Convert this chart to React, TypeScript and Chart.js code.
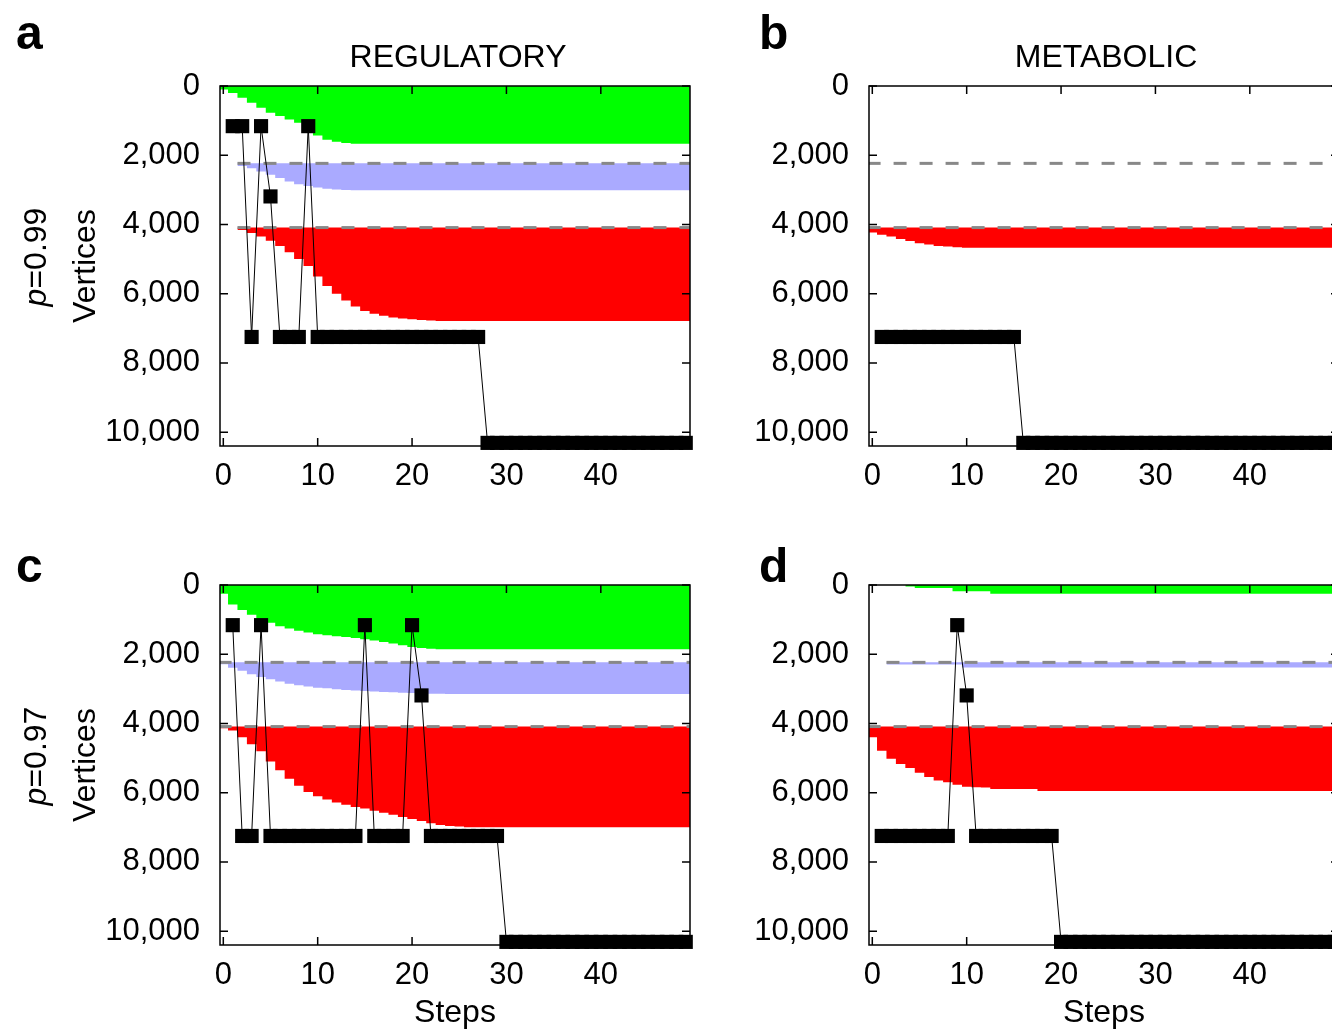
import React, { useEffect, useRef } from 'react';
import { Chart, registerables } from 'chart.js';

Chart.register(...registerables);

const FONT = '"Liberation Sans", Arial, Helvetica, sans-serif';

// ---- axes ----
const X_MIN = -0.35;
const X_MAX = 49.45;
const Y_MIN = 0;
const Y_MAX = 10400;
const X_TICKS = [0, 10, 20, 30, 40];
const Y_TICKS = [0, 2000, 4000, 6000, 8000, 10000];

// ---- reference levels (dashed lines / band tops) ----
const BLUE_LEVEL = 2235;
const RED_LEVEL = 4090;

// first step of the black path series
const FIRST_PATH_STEP = 1;

// ---- band lower edges, one value per step (0..49) ----
const greenA = [
  100, 200, 340, 485, 630, 770, 870, 965, 1060, 1250,
  1430, 1550, 1610, 1645, 1665, 1665, 1665, 1665, 1665, 1665,
  1665, 1665, 1665, 1665, 1665, 1665, 1665, 1665, 1665, 1665,
  1665, 1665, 1665, 1665, 1665, 1665, 1665, 1665, 1665, 1665,
  1665, 1665, 1665, 1665, 1665, 1665, 1665, 1665, 1665, 1665,
];
const blueA = [
  null, null, 2310, 2375, 2470, 2565, 2660, 2760, 2835, 2890,
  2930, 2970, 2990, 3005, 3010, 3010, 3010, 3010, 3010, 3010,
  3010, 3010, 3010, 3010, 3010, 3010, 3010, 3010, 3010, 3010,
  3010, 3010, 3010, 3010, 3010, 3010, 3010, 3010, 3010, 3010,
  3010, 3010, 3010, 3010, 3010, 3010, 3010, 3010, 3010, 3010,
];
const redA = [
  null, null, 4160, 4250, 4350, 4470, 4620, 4800, 5000, 5200,
  5500, 5780, 6000, 6200, 6370, 6500, 6580, 6640, 6690, 6720,
  6740, 6760, 6775, 6790, 6790, 6790, 6790, 6790, 6790, 6790,
  6790, 6790, 6790, 6790, 6790, 6790, 6790, 6790, 6790, 6790,
  6790, 6790, 6790, 6790, 6790, 6790, 6790, 6790, 6790, 6790,
];
const redB = [
  4230, 4300, 4350, 4420, 4480, 4540, 4580, 4620, 4640, 4655,
  4670, 4670, 4670, 4670, 4670, 4670, 4670, 4670, 4670, 4670,
  4670, 4670, 4670, 4670, 4670, 4670, 4670, 4670, 4670, 4670,
  4670, 4670, 4670, 4670, 4670, 4670, 4670, 4670, 4670, 4670,
  4670, 4670, 4670, 4670, 4670, 4670, 4670, 4670, 4670, 4670,
];
const greenC = [
  250, 560, 720, 860, 980, 1090, 1190, 1260, 1320, 1370,
  1420, 1450, 1480, 1505, 1530, 1570, 1600, 1650, 1690, 1740,
  1790, 1820, 1840, 1855, 1855, 1855, 1855, 1855, 1855, 1855,
  1855, 1855, 1855, 1855, 1855, 1855, 1855, 1855, 1855, 1855,
  1855, 1855, 1855, 1855, 1855, 1855, 1855, 1855, 1855, 1855,
];
const blueC = [
  2290, 2390, 2480, 2580, 2655, 2720, 2790, 2850, 2895, 2935,
  2965, 2985, 3010, 3030, 3045, 3060, 3075, 3090, 3100, 3110,
  3120, 3130, 3140, 3145, 3150, 3150, 3150, 3150, 3150, 3150,
  3150, 3150, 3150, 3150, 3150, 3150, 3150, 3150, 3150, 3150,
  3150, 3150, 3150, 3150, 3150, 3150, 3150, 3150, 3150, 3150,
];
const redC = [
  4140, 4200, 4400, 4600, 4800, 5100, 5350, 5600, 5800, 5980,
  6100, 6200, 6280, 6350, 6410, 6460, 6520, 6580, 6640, 6700,
  6760, 6820, 6880, 6930, 6960, 6980, 6995, 6995, 6995, 6995,
  6995, 6995, 6995, 6995, 6995, 6995, 6995, 6995, 6995, 6995,
  6995, 6995, 6995, 6995, 6995, 6995, 6995, 6995, 6995, 6995,
];
const greenD = [
  null, null, null, null, 40, 90, 90, 90, 90, 180,
  180, 180, 180, 250, 250, 250, 250, 250, 250, 250,
  250, 250, 250, 250, 250, 250, 250, 250, 250, 250,
  250, 250, 250, 250, 250, 250, 250, 250, 250, 250,
  250, 250, 250, 250, 250, 250, 250, 250, 250, 250,
];
const blueD = [
  null, null, 2300, 2300, 2300, 2300, 2300, 2300, 2300, 2300,
  2380, 2380, 2380, 2380, 2380, 2380, 2380, 2380, 2380, 2380,
  2380, 2380, 2380, 2380, 2380, 2380, 2380, 2380, 2380, 2380,
  2380, 2380, 2380, 2380, 2380, 2380, 2380, 2380, 2380, 2380,
  2380, 2380, 2380, 2380, 2380, 2380, 2380, 2380, 2380, 2380,
];
const redD = [
  4400, 4790, 5020, 5170, 5290, 5425, 5550, 5650, 5700, 5770,
  5830, 5840, 5850, 5890, 5890, 5890, 5890, 5890, 5950, 5950,
  5950, 5950, 5950, 5950, 5950, 5950, 5950, 5950, 5950, 5950,
  5950, 5950, 5950, 5950, 5950, 5950, 5950, 5950, 5950, 5950,
  5950, 5950, 5950, 5950, 5950, 5950, 5950, 5950, 5950, 5950,
];

// ---- black path (steps 1..49) ----
const pathA = [
  1160, 1160, 7250, 1160, 3190, 7250, 7250, 7250, 1160,
  7250, 7250, 7250, 7250, 7250, 7250, 7250, 7250, 7250,
  7250, 7250, 7250, 7250, 7250, 7250, 7250, 7250, 7250,
  10310, 10310, 10310, 10310, 10310, 10310, 10310, 10310, 10310, 10310, 10310,
  10310, 10310, 10310, 10310, 10310, 10310, 10310, 10310, 10310, 10310, 10310,
];
const pathB = [
  7250, 7250, 7250, 7250, 7250, 7250, 7250, 7250, 7250, 7250,
  7250, 7250, 7250, 7250, 7250,
  10310, 10310, 10310, 10310, 10310, 10310, 10310, 10310, 10310, 10310,
  10310, 10310, 10310, 10310, 10310, 10310, 10310, 10310, 10310, 10310,
  10310, 10310, 10310, 10310, 10310, 10310, 10310, 10310, 10310, 10310,
  10310, 10310, 10310, 10310,
];
const pathC = [
  1160, 7250, 7250, 1160,
  7250, 7250, 7250, 7250, 7250, 7250, 7250, 7250, 7250, 7250,
  1160,
  7250, 7250, 7250, 7250,
  1160, 3190,
  7250, 7250, 7250, 7250, 7250, 7250, 7250, 7250,
  10310, 10310, 10310, 10310, 10310, 10310, 10310, 10310, 10310, 10310,
  10310, 10310, 10310, 10310, 10310, 10310, 10310, 10310, 10310, 10310,
];
const pathD = [
  7250, 7250, 7250, 7250, 7250, 7250, 7250, 7250,
  1160, 3190,
  7250, 7250, 7250, 7250, 7250, 7250, 7250, 7250, 7250,
  10310, 10310, 10310, 10310, 10310, 10310, 10310, 10310, 10310, 10310,
  10310, 10310, 10310, 10310, 10310, 10310, 10310, 10310, 10310, 10310,
  10310, 10310, 10310, 10310, 10310, 10310, 10310, 10310, 10310, 10310,
];

const COLORS = {
  green: '#00ff00',
  blue: '#aaaaff',
  red: '#ff0000',
  dash: '#888888',
  path: '#000000',
};

type Panel = {
  key: string;
  left: number;
  top: number;
  height: number;
  xAxisHeight: number;
  green: (number | null)[] | null;
  blue: (number | null)[] | null;
  red: (number | null)[] | null;
  path: number[];
  blueDashStart: number;
  redDashStart: number;
  yTitle: boolean;
  xTitle: boolean;
};

const CANVAS_W = 700;

const PANELS: Panel[] = [
  { key: 'a', left: 0, top: 0, height: 499, xAxisHeight: 53, green: greenA, blue: blueA, red: redA, path: pathA, blueDashStart: 2, redDashStart: 2, yTitle: true, xTitle: false },
  { key: 'b', left: 649, top: 0, height: 499, xAxisHeight: 53, green: null, blue: null, red: redB, path: pathB, blueDashStart: 0, redDashStart: 0, yTitle: false, xTitle: false },
  { key: 'c', left: 0, top: 499, height: 532, xAxisHeight: 86, green: greenC, blue: blueC, red: redC, path: pathC, blueDashStart: 0, redDashStart: 0, yTitle: true, xTitle: true },
  { key: 'd', left: 649, top: 499, height: 532, xAxisHeight: 86, green: greenD, blue: blueD, red: redD, path: pathD, blueDashStart: 2, redDashStart: 0, yTitle: false, xTitle: true },
];

// box-style band: each step k covers [k-0.5, k+0.5]
function bandPoints(values: (number | null)[]) {
  const pts: { x: number; y: number }[] = [];
  let first = -1;
  let last = -1;
  values.forEach((v, k) => {
    if (v !== null && v !== undefined) {
      if (first < 0) first = k;
      last = k;
    }
  });
  if (first < 0) return pts;
  pts.push({ x: first - 0.5, y: values[first] as number });
  for (let k = first; k <= last; k++) pts.push({ x: k, y: values[k] as number });
  pts.push({ x: last + 0.5, y: values[last] as number });
  return pts;
}

const framePlugin = {
  id: 'gnuplotFrame',
  beforeDatasetDraw(chart: any, args: any) {
    if (args.index !== 0) return;
    const { ctx, chartArea } = chart;
    const { left, right, top, bottom } = chartArea;
    const xs = chart.scales.x;
    const ys = chart.scales.y;
    const L = 8;
    ctx.save();
    ctx.strokeStyle = '#000';
    ctx.lineWidth = 1.5;
    ctx.strokeRect(left, top, right - left, bottom - top);
    ctx.beginPath();
    xs.ticks.forEach((t: any) => {
      const px = xs.getPixelForValue(t.value);
      ctx.moveTo(px, bottom);
      ctx.lineTo(px, bottom - L);
      ctx.moveTo(px, top);
      ctx.lineTo(px, top + L);
    });
    ys.ticks.forEach((t: any) => {
      const py = ys.getPixelForValue(t.value);
      ctx.moveTo(left, py);
      ctx.lineTo(left + L, py);
      ctx.moveTo(right, py);
      ctx.lineTo(right - L, py);
    });
    ctx.stroke();
    ctx.restore();
  },
};

function PanelChart({ cfg }: { cfg: Panel }) {
  const ref = useRef<HTMLCanvasElement>(null);
  useEffect(() => {
    const canvas = ref.current;
    if (!canvas) return;
    const lastStep = (cfg.red as any[]).length - 1;
    const dash = (level: number, start: number) => ({
      label: 'level',
      data: [
        { x: start - 0.5, y: level },
        { x: lastStep + 0.5, y: level },
      ],
      borderColor: COLORS.dash,
      borderWidth: 3,
      borderDash: [13, 13],
      pointRadius: 0,
      fill: false,
      clip: 0,
    });
    const band = (values: (number | null)[], color: string, level: number) => ({
      label: 'band',
      data: bandPoints(values),
      stepped: 'middle',
      borderWidth: 0,
      borderColor: 'rgba(0,0,0,0)',
      backgroundColor: color,
      fill: { value: level },
      pointRadius: 0,
    });
    const datasets: any[] = [
      {
        label: 'path',
        data: cfg.path.map((v, i) => ({ x: i + FIRST_PATH_STEP, y: v })),
        borderColor: COLORS.path,
        borderWidth: 1,
        pointStyle: 'rect',
        pointRadius: 10,
        pointBackgroundColor: COLORS.path,
        pointBorderColor: COLORS.path,
        pointBorderWidth: 0,
        fill: false,
        tension: 0,
        clip: false,
      },
      dash(BLUE_LEVEL, cfg.blueDashStart),
      dash(RED_LEVEL, cfg.redDashStart),
    ];
    if (cfg.red) datasets.push(band(cfg.red, COLORS.red, RED_LEVEL));
    if (cfg.blue) datasets.push(band(cfg.blue, COLORS.blue, BLUE_LEVEL));
    if (cfg.green) datasets.push(band(cfg.green, COLORS.green, Y_MIN));

    const tickFont = { family: FONT, size: 31 };
    const chart = new Chart(canvas, {
      type: 'line',
      data: { datasets },
      options: {
        responsive: false,
        animation: false,
        events: [],
        layout: { padding: { top: 86, right: 10, left: 0, bottom: 0 } },
        plugins: {
          legend: { display: false },
          tooltip: { enabled: false },
          title: { display: false },
        },
        scales: {
          x: {
            type: 'linear',
            position: 'bottom',
            min: X_MIN,
            max: X_MAX,
            grid: { display: false, drawTicks: false },
            border: { display: false },
            ticks: {
              padding: 12,
              color: '#000',
              font: tickFont,
              maxRotation: 0,
              autoSkip: false,
            },
            afterBuildTicks: (s: any) => {
              s.ticks = X_TICKS.map((v) => ({ value: v }));
            },
            title: {
              display: cfg.xTitle,
              text: 'Steps',
              color: '#000',
              font: { family: FONT, size: 32, lineHeight: 1 },
              padding: { top: 0, bottom: 2 },
            },
            afterFit: (s: any) => {
              s.height = cfg.xAxisHeight;
            },
          },
          y: {
            type: 'linear',
            reverse: true,
            min: Y_MIN,
            max: Y_MAX,
            grid: { display: false, drawTicks: false },
            border: { display: false },
            ticks: {
              padding: 20,
              color: '#000',
              font: tickFont,
              autoSkip: false,
            },
            afterBuildTicks: (s: any) => {
              s.ticks = Y_TICKS.map((v) => ({ value: v }));
            },
            title: {
              display: cfg.yTitle,
              text: 'Vertices',
              color: '#000',
              font: { family: FONT, size: 32, lineHeight: 1.2 },
              padding: { top: 67, bottom: 0 },
            },
            afterFit: (s: any) => {
              s.width = 220;
            },
          },
        },
      } as any,
      plugins: [framePlugin],
    });
    return () => chart.destroy();
  }, [cfg]);
  return (
    <canvas
      ref={ref}
      width={CANVAS_W}
      height={cfg.height}
      style={{ position: 'absolute', left: cfg.left, top: cfg.top, width: CANVAS_W, height: cfg.height }}
    />
  );
}

const textBase: React.CSSProperties = {
  position: 'absolute',
  fontFamily: FONT,
  color: '#000',
  whiteSpace: 'nowrap',
  margin: 0,
};

export default function App() {
  return (
    <div
      style={{
        position: 'fixed',
        left: 0,
        top: 0,
        width: 1332,
        height: 1031,
        overflow: 'hidden',
        background: '#fff',
      }}
    >
      {PANELS.map((p) => (
        <PanelChart key={p.key} cfg={p} />
      ))}
      {/* panel letters */}
      <div style={{ ...textBase, left: 16, top: 9, fontSize: 48, lineHeight: '48px', fontWeight: 'bold' }}>a</div>
      <div style={{ ...textBase, left: 759, top: 9, fontSize: 48, lineHeight: '48px', fontWeight: 'bold' }}>b</div>
      <div style={{ ...textBase, left: 16, top: 542, fontSize: 48, lineHeight: '48px', fontWeight: 'bold' }}>c</div>
      <div style={{ ...textBase, left: 759, top: 542, fontSize: 48, lineHeight: '48px', fontWeight: 'bold' }}>d</div>
      {/* column titles */}
      <div style={{ ...textBase, left: 458, top: 40, fontSize: 32, lineHeight: '32px', transform: 'translateX(-50%)' }}>REGULATORY</div>
      <div style={{ ...textBase, left: 1106, top: 40, fontSize: 32, lineHeight: '32px', transform: 'translateX(-50%)' }}>METABOLIC</div>
      {/* row labels */}
      <div
        style={{ ...textBase, left: 35, top: 257, fontSize: 32, lineHeight: '32px', transform: 'translate(-50%, -50%) rotate(-90deg)' }}
      >
        <i>p</i>=0.99
      </div>
      <div
        style={{ ...textBase, left: 35, top: 756, fontSize: 32, lineHeight: '32px', transform: 'translate(-50%, -50%) rotate(-90deg)' }}
      >
        <i>p</i>=0.97
      </div>
    </div>
  );
}
